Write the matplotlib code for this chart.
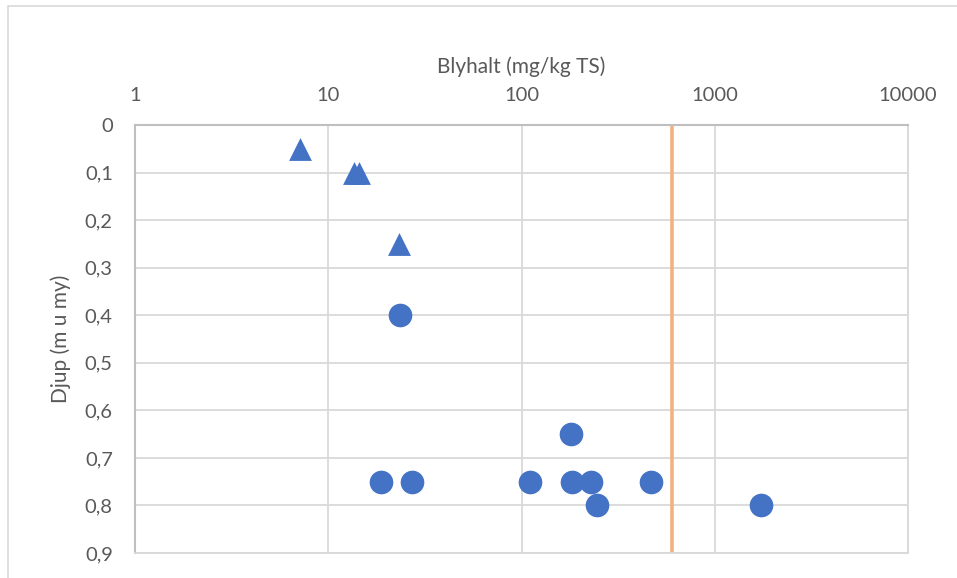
import matplotlib.pyplot as plt
from matplotlib.patches import Rectangle

# lead content (mg/kg TS) and sample depth (m below ground)
tri_halt = [7.1, 13.6, 14.5, 23.2]
tri_djup = [0.05, 0.1, 0.1, 0.25]
dot_halt = [23.4, 181, 18.7, 27.2, 111, 183, 230, 466, 246, 1733]
dot_djup = [0.4, 0.65, 0.75, 0.75, 0.75, 0.75, 0.75, 0.75, 0.8, 0.8]
riktvarde = 600

x_ticks = [1, 10, 100, 1000, 10000]
x_labels = ["1", "10", "100", "1000", "10000"]
y_ticks = [0, 0.1, 0.2, 0.3, 0.4, 0.5, 0.6, 0.7, 0.8, 0.9]
y_labels = ["0", "0,1", "0,2", "0,3", "0,4", "0,5", "0,6", "0,7", "0,8", "0,9"]

plt.rcParams["font.family"] = ["Lato", "DejaVu Sans"]
blue = "#4472C4"
grey_txt = "#595959"

fig = plt.figure(figsize=(9.57, 5.78), dpi=100)
fig.patches.append(Rectangle((8 / 957, -0.01), 1.0, 1 - 6 / 578 + 0.01,
                             transform=fig.transFigure, fill=False,
                             edgecolor="#D9D9D9", linewidth=1.2))
ax = fig.add_axes([135 / 957, 25 / 578, 773 / 957, 428 / 578])

ax.scatter(tri_halt, tri_djup, marker="^", s=270, color=blue, zorder=3, linewidths=0)
ax.scatter(dot_halt, dot_djup, marker="o", s=290, color=blue, zorder=3, linewidths=0)
ax.axvline(riktvarde, color="#F4B183", linewidth=2.6, zorder=2)

ax.set_xscale("log")
ax.set_xlim(1, 10000)
ax.set_ylim(0.9, 0)
ax.set_xticks(x_ticks)
ax.set_xticklabels(x_labels)
ax.xaxis.set_minor_locator(plt.NullLocator())
ax.set_yticks(y_ticks)
ax.set_yticklabels(y_labels)
ax.xaxis.tick_top()
ax.xaxis.set_label_position("top")
ax.tick_params(axis="x", length=0, pad=15, labelsize=14.5, labelcolor=grey_txt)
ax.tick_params(axis="y", length=0, pad=16, labelsize=14.5, labelcolor=grey_txt)
ax.grid(True, color="#D9D9D9", linewidth=1.3, zorder=0)
ax.set_axisbelow(True)

for side in ["right", "bottom"]:
    ax.spines[side].set_color("#D9D9D9")
    ax.spines[side].set_linewidth(1.3)
for side in ["left", "top"]:
    ax.spines[side].set_color("#BFBFBF")
    ax.spines[side].set_linewidth(1.5)

ax.set_xlabel("Blyhalt (mg/kg TS)", fontsize=15, color=grey_txt, labelpad=10)
ax.set_ylabel("Djup (m u my)", fontsize=15, color=grey_txt, labelpad=10)

fig.savefig("out.png", dpi=100)
